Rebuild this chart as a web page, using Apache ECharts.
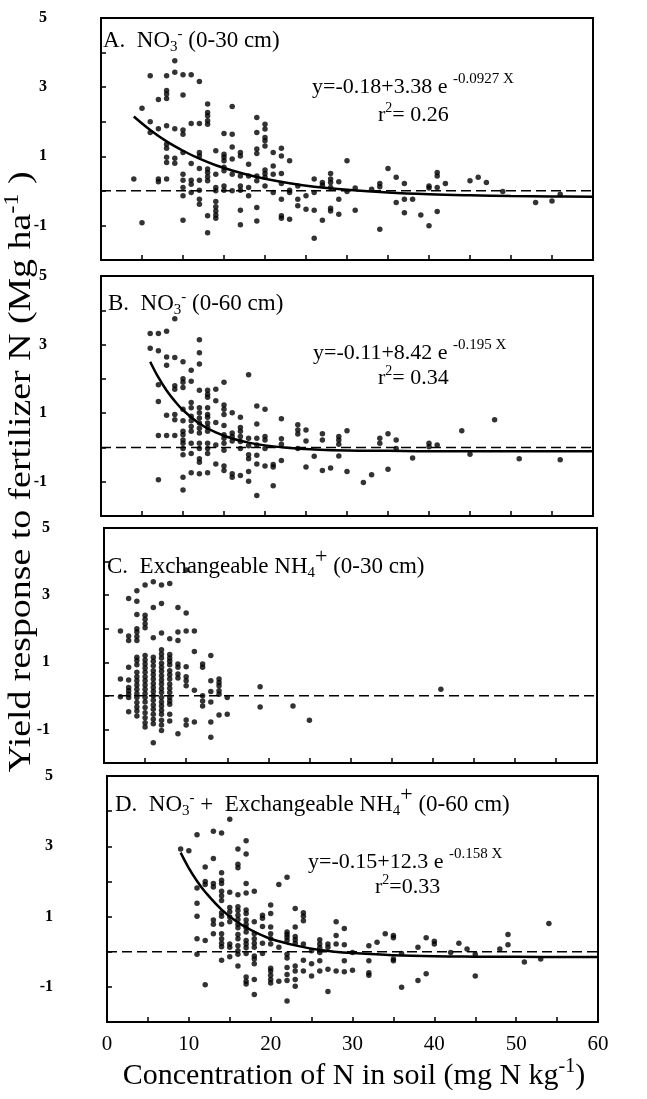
<!DOCTYPE html>
<html>
<head>
<meta charset="utf-8">
<script src="https://cdn.jsdelivr.net/npm/echarts@6/dist/echarts.min.js"></script>
<style>html,body{margin:0;padding:0;background:#fff;}#c{width:647px;height:1099px;}</style>
</head>
<body>
<div id="c"></div>
<script>
// ---------- DATA ----------
const yTickLabels = ['-1', '1', '3', '5'];
const xTickLabels = ['0', '10', '20', '30', '40', '50', '60'];
const zeroLine = [[0, 0], [60, 0]];

const pointsA = [[4,0.34],[5,2.39],[5,-0.92],[6,3.33],[6,2.0],[6,1.69],[7,2.64],[7,1.8],[7,0.34],[7,0.26],[8,3.33],[8,2.9],[8,2.8],[8,2.67],[8,1.88],[8,1.35],[8,1.23],[8,0.97],[8,0.82],[8,0.34],[9,3.76],[9,3.43],[9,1.8],[9,0.94],[9,0.8],[10,3.36],[10,2.77],[10,1.76],[10,1.64],[10,1.11],[10,0.48],[10,0.31],[10,0.1],[10,-0.14],[10,-0.85],[11,3.36],[11,1.95],[11,0.79],[11,0.31],[11,0.19],[11,-0.05],[12,3.16],[12,1.95],[12,1.11],[12,1.01],[12,0.65],[12,0.31],[12,0.02],[12,-0.24],[12,-0.39],[13,2.51],[13,2.27],[13,2.17],[13,2.03],[13,1.93],[13,0.63],[13,0.53],[13,0.41],[13,0.29],[13,-0.72],[13,-1.21],[14,1.16],[14,0.48],[14,0.1],[14,0.0],[14,-0.31],[14,-0.46],[14,-0.58],[14,-0.7],[14,-0.79],[15,1.66],[15,1.06],[15,0.97],[15,0.87],[15,0.68],[15,0.58],[15,0.14],[15,0.02],[16,2.44],[16,1.64],[16,1.27],[16,0.92],[16,0.48],[16,0.0],[17,1.11],[17,1.01],[17,0.43],[17,0.14],[17,0.02],[17,-0.56],[17,-0.98],[18,0.77],[18,0.43],[18,0.1],[18,-0.14],[19,2.12],[19,1.69],[19,1.21],[19,1.08],[19,0.43],[19,0.29],[19,-0.48],[19,-0.87],[20,1.93],[20,1.79],[20,1.54],[20,1.45],[20,1.3],[20,0.6],[20,0.5],[20,0.39],[20,0.14],[21,1.11],[21,0.72],[21,0.48],[21,-0.05],[22,1.23],[22,1.01],[22,0.5],[22,0.21],[22,-0.24],[22,-0.72],[22,-0.79],[23,0.87],[23,0.02],[23,-0.05],[23,-0.82],[24,0.14],[24,-0.24],[24,-0.43],[25,-0.14],[25,-0.53],[26,0.34],[26,-0.05],[26,-0.56],[26,-1.37],[27,0.24],[27,0.16],[27,-0.85],[28,0.5],[28,0.34],[28,0.24],[28,0.1],[28,-0.5],[28,-0.58],[29,0.26],[29,-0.24],[29,-0.68],[30,0.87],[30,-0.02],[31,0.08],[31,-0.56],[33,0.05],[34,0.21],[34,0.12],[34,-1.11],[35,0.65],[36,0.39],[36,-0.34],[37,0.21],[37,-0.24],[37,-0.63],[38,-0.24],[39,-0.7],[40,0.14],[40,0.08],[40,-1.01],[41,0.53],[41,0.43],[41,0.1],[41,-0.6],[42,0.21],[45,0.29],[46,0.39],[47,0.24],[49,-0.02],[53,-0.34],[55,-0.29],[56,-0.1]];

const pointsB = [[6,3.32],[6,2.89],[7,3.32],[7,2.82],[7,1.83],[7,1.34],[7,0.35],[7,-0.94],[8,3.39],[8,2.64],[8,2.4],[8,0.94],[8,0.35],[9,3.75],[9,2.62],[9,1.8],[9,1.7],[9,0.96],[9,0.81],[9,0.35],[10,2.5],[10,2.0],[10,1.9],[10,1.75],[10,1.11],[10,0.78],[10,0.47],[10,0.37],[10,0.22],[10,0.12],[10,-0.03],[10,-0.21],[10,-0.87],[10,-1.24],[11,2.25],[11,1.93],[11,1.31],[11,1.16],[11,0.91],[11,0.78],[11,0.61],[11,0.47],[11,0.12],[11,-0.18],[11,-0.74],[12,3.14],[12,2.76],[12,2.43],[12,1.67],[12,1.16],[12,1.01],[12,0.86],[12,0.71],[12,0.56],[12,0.42],[12,0.12],[12,-0.03],[12,-0.33],[12,-0.43],[12,-0.77],[13,1.67],[13,1.55],[13,1.46],[13,1.16],[13,0.96],[13,0.88],[13,0.71],[13,0.59],[13,0.47],[13,0.12],[13,-0.03],[13,-0.18],[13,-0.74],[14,1.7],[14,1.36],[14,0.73],[14,0.07],[14,-0.48],[15,1.9],[15,1.24],[15,1.11],[15,0.96],[15,0.64],[15,0.37],[15,0.27],[15,0.12],[15,-0.08],[15,-0.54],[15,-0.67],[16,1.01],[16,0.42],[16,0.32],[16,0.19],[16,-0.77],[16,-0.87],[17,0.88],[17,0.58],[17,0.47],[17,0.32],[17,0.17],[17,-0.03],[17,-0.82],[18,2.12],[18,0.27],[18,0.05],[18,-0.21],[18,-0.33],[18,-0.7],[18,-0.99],[19,1.21],[19,0.68],[19,0.27],[19,0.07],[19,-0.23],[19,-0.48],[19,-1.4],[20,1.11],[20,0.32],[20,0.22],[20,-0.03],[20,-0.54],[21,-0.5],[21,-0.57],[21,-1.12],[22,0.84],[22,0.25],[22,0.09],[22,-0.38],[24,0.66],[24,0.51],[24,0.39],[24,-0.03],[25,0.51],[25,0.19],[25,-0.57],[26,-0.26],[27,0.4],[27,0.22],[27,-0.67],[28,-0.6],[29,0.32],[29,0.22],[29,0.09],[29,-0.25],[30,0.49],[30,-0.7],[32,-1.02],[33,-0.8],[34,0.27],[34,0.12],[35,0.4],[35,-0.64],[36,0.22],[36,-0.03],[38,-0.31],[40,0.12],[40,0.02],[41,0.07],[44,0.49],[45,-0.2],[48,0.81],[51,-0.33],[56,-0.36]];

const pointsC = [[2,1.93],[2,0.5],[2,-0.03],[3,2.9],[3,1.78],[3,1.65],[3,0.85],[3,0.47],[3,0.25],[3,0.15],[3,0.05],[3,-0.05],[3,-0.47],[4,3.13],[4,2.82],[4,2.42],[4,2.0],[4,1.9],[4,1.77],[4,1.65],[4,1.15],[4,1.05],[4,0.93],[4,0.7],[4,0.57],[4,0.45],[4,0.32],[4,0.2],[4,0.07],[4,-0.05],[4,-0.2],[4,-0.33],[4,-0.45],[4,-0.6],[5,3.3],[5,2.4],[5,2.28],[5,2.15],[5,2.03],[5,1.2],[5,1.07],[5,0.95],[5,0.83],[5,0.7],[5,0.57],[5,0.45],[5,0.32],[5,0.2],[5,0.07],[5,-0.05],[5,-0.18],[5,-0.35],[5,-0.5],[5,-0.65],[5,-0.8],[5,-0.93],[6,3.4],[6,2.63],[6,1.73],[6,1.15],[6,1.03],[6,0.9],[6,0.75],[6,0.63],[6,0.5],[6,0.37],[6,0.25],[6,0.13],[6,0],[6,-0.13],[6,-0.27],[6,-0.4],[6,-0.55],[6,-0.7],[6,-0.83],[6,-1.4],[7,3.3],[7,2.75],[7,1.87],[7,1.37],[7,1.25],[7,1.13],[7,0.97],[7,0.85],[7,0.73],[7,0.6],[7,0.47],[7,0.35],[7,0.22],[7,0.1],[7,-0.05],[7,-0.18],[7,-0.3],[7,-0.43],[7,-0.55],[7,-0.73],[7,-0.87],[7,-1.03],[8,3.35],[8,1.7],[8,1.23],[8,1.13],[8,1.03],[8,0.93],[8,0.75],[8,0.63],[8,0.5],[8,0.35],[8,0.23],[8,0.1],[8,-0.05],[8,-0.15],[8,-0.25],[8,-0.55],[8,-0.75],[9,2.63],[9,1.9],[9,1.65],[9,0.95],[9,0.85],[9,0.65],[9,0.53],[9,-1.13],[10,3.75],[10,2.47],[10,1.93],[10,0.87],[10,0.57],[10,0.45],[10,0.3],[10,-0.72],[10,-0.87],[11,1.93],[11,1.32],[11,0.17],[11,-0.78],[12,0.95],[12,0.85],[12,0],[12,-0.15],[12,-0.3],[13,1.2],[13,0.45],[13,0.13],[13,-0.18],[13,-0.78],[13,-1.23],[14,0.5],[14,0.4],[14,0.3],[14,0.15],[14,0.05],[14,-0.57],[15,-0.05],[15,-0.55],[19,0.27],[19,-0.33],[23,-0.3],[25,-0.73],[41,0.2]];

const pointsD = [[9,2.92],[10,2.87],[11,3.33],[11,1.81],[11,1.38],[11,1.01],[11,0.37],[11,-0.07],[12,2.41],[12,2.0],[12,1.91],[12,0.32],[12,-0.94],[13,3.43],[13,2.65],[13,1.94],[13,1.84],[13,0.9],[13,0.78],[13,0.51],[14,3.38],[14,2.25],[14,2.03],[14,1.94],[14,1.72],[14,1.59],[14,1.46],[14,1.11],[14,1.01],[14,0.78],[14,0.51],[14,0.37],[14,0.24],[14,0.14],[14,-0.24],[15,3.77],[15,1.69],[15,1.26],[15,1.14],[15,0.99],[15,0.85],[15,0.22],[15,0.13],[15,-0.14],[16,2.92],[16,2.49],[16,2.39],[16,1.62],[16,1.28],[16,1.17],[16,1.04],[16,0.92],[16,0.78],[16,0.68],[16,0.49],[16,0.37],[16,0.17],[16,0.03],[16,-0.07],[16,-0.41],[17,3.16],[17,2.78],[17,1.94],[17,1.67],[17,1.19],[17,1.09],[17,0.9],[17,0.78],[17,0.68],[17,0.56],[17,0.32],[17,0.22],[17,0.11],[17,-0.05],[17,-0.72],[17,-0.84],[17,-0.92],[18,1.72],[18,0.85],[18,0.51],[18,0.37],[18,0.24],[18,0.13],[18,-0.12],[18,-0.21],[18,-0.34],[18,-0.79],[18,-1.22],[19,1.04],[19,0.95],[19,0.72],[19,0.24],[19,-0.05],[20,1.33],[20,1.09],[20,0.7],[20,0.51],[20,0.37],[20,0.22],[20,-0.47],[20,-0.55],[20,-0.67],[20,-0.79],[20,-0.89],[21,1.91],[21,0.13],[21,-0.84],[22,2.12],[22,0.56],[22,0.49],[22,0.41],[22,0.32],[22,-0.07],[22,-0.18],[22,-0.45],[22,-0.65],[22,-0.82],[22,-1.4],[23,1.23],[23,0.7],[23,0.43],[23,0.34],[23,0.24],[23,-0.41],[23,-0.55],[23,-0.79],[23,-0.98],[24,1.11],[24,1.01],[24,0.88],[24,0.22],[24,-0.24],[24,-0.55],[25,0.03],[25,-0.34],[25,-0.69],[26,0.34],[26,0.22],[26,0.11],[26,-0.02],[26,-0.26],[26,-0.55],[27,0.22],[27,0.13],[27,-0.5],[27,-1.13],[28,0.85],[28,0.46],[28,0.22],[28,-0.55],[29,0.66],[29,0.2],[29,-0.26],[29,-0.57],[30,-0.02],[30,-0.53],[32,0.17],[32,-0.26],[32,-0.6],[32,-0.67],[33,0.27],[34,0.51],[35,0.46],[35,0.4],[35,-0.21],[35,-0.26],[36,-0.05],[36,-1.01],[38,0.13],[38,-0.82],[39,0.4],[39,-0.63],[40,0.3],[40,0.22],[42,-0.02],[43,0.24],[44,0.08],[45,-0.07],[45,-0.69],[48,0.08],[49,0.49],[49,0.2],[51,-0.29],[53,-0.21],[54,0.8]];

// fitted curves
const curveA = [[4,2.15],[6,1.76],[8,1.43],[10,1.16],[12,0.93],[14,0.74],[16,0.59],[18,0.46],[20,0.35],[23,0.22],[26,0.12],[30,0.03],[35,-0.05],[40,-0.10],[45,-0.13],[50,-0.15],[55,-0.16],[60,-0.17]];
const curveB = [[6,2.50],[7,2.04],[8,1.66],[9,1.35],[10,1.09],[12,0.70],[14,0.44],[16,0.26],[18,0.14],[20,0.06],[23,-0.02],[26,-0.06],[30,-0.09],[35,-0.10],[40,-0.11],[50,-0.11],[60,-0.11]];
const curveD = [[9,2.82],[10,2.38],[11,2.01],[12,1.70],[14,1.20],[16,0.83],[18,0.57],[20,0.37],[23,0.18],[26,0.05],[30,-0.04],[35,-0.10],[40,-0.13],[45,-0.14],[50,-0.145],[60,-0.15]];

// ---------- CHART ----------
const SERIF = '"Liberation Serif", "Times New Roman", serif';
const chart = echarts.init(document.getElementById('c'));

const grids = [
  {left: 101, top: 18, width: 492, height: 242},
  {left: 101, top: 276, width: 492, height: 240},
  {left: 104, top: 528, width: 493, height: 235},
  {left: 107, top: 776, width: 491, height: 246}
];

const xAxes = grids.map((g, i) => ({
  gridIndex: i, type: 'value', min: 0, max: 60, interval: 5,
  axisLine: {show: true, onZero: false, lineStyle: {color: '#000', width: 2}},
  axisTick: {show: true, inside: true, length: 5, lineStyle: {color: '#000', width: 1.5}},
  splitLine: {show: false},
  axisLabel: {
    show: i === 3, margin: 12, color: '#000', fontFamily: SERIF, fontSize: 21,
    formatter: v => (xTickLabels.indexOf(String(v)) >= 0 ? String(v) : '')
  }
}));

const yAxes = grids.map((g, i) => ({
  gridIndex: i, type: 'value', min: -2, max: 5, interval: 1,
  axisLine: {show: true, onZero: false, lineStyle: {color: '#000', width: 2}},
  axisTick: {show: true, inside: true, length: 5, lineStyle: {color: '#000', width: 1.5}},
  splitLine: {show: false},
  axisLabel: {
    margin: 54, color: '#000', fontFamily: SERIF, fontSize: 16, fontWeight: 'bold',
    formatter: v => (yTickLabels.indexOf(String(v)) >= 0 ? String(v) : '')
  }
}));

const pointSets = [pointsA, pointsB, pointsC, pointsD];
const curves = [curveA, curveB, null, curveD];
const series = [];
pointSets.forEach((pts, i) => {
  series.push({
    type: 'line', xAxisIndex: i, yAxisIndex: i, data: zeroLine, symbol: 'none',
    lineStyle: {color: '#000', width: 1.5, type: [10, 5]}, silent: true, z: 1
  });
  series.push({
    type: 'scatter', xAxisIndex: i, yAxisIndex: i, data: pts, symbol: 'circle',
    symbolSize: 5.5, itemStyle: {color: '#000'}, z: 3
  });
  if (curves[i]) {
    series.push({
      type: 'line', xAxisIndex: i, yAxisIndex: i, data: curves[i], symbol: 'none', smooth: 0.4,
      lineStyle: {color: '#000', width: 2.5}, z: 4
    });
  }
});

function rich(size) {
  return {
    t: {fontFamily: SERIF, fontSize: size, color: '#000'},
    sub: {fontFamily: SERIF, fontSize: Math.round(size * 0.65), color: '#000', padding: [Math.round(size * 0.55), 0, 0, 0]},
    sup: {fontFamily: SERIF, fontSize: Math.round(size * 0.65), color: '#000', padding: [0, 0, Math.round(size * 0.6), 0]},
    supb: {fontFamily: SERIF, fontSize: Math.round(size * 0.95), color: '#000', padding: [0, 0, Math.round(size * 0.85), 0]},
    ex: {fontFamily: SERIF, fontSize: Math.round(size * 0.68), color: '#000', padding: [0, 0, Math.round(size * 0.7), 0]}
  };
}
function txt(x, y, text, size, opts) {
  return Object.assign({
    type: 'text', x: x, y: y, z: 10,
    style: {text: text, rich: rich(size), fontFamily: SERIF, fontSize: size, fill: '#000', align: 'left', verticalAlign: 'middle'}
  }, opts || {});
}

const graphics = [
  txt(103, 41, '{t|A.  NO}{sub|3}{sup|-}{t| (0-30 cm)}', 23),
  txt(312, 87, '{t|y=-0.18+3.38 e }{ex|-0.0927 X}', 22),
  txt(378, 115, '{t|r}{sup|2}{t|= 0.26}', 22),
  txt(108, 304, '{t|B.  NO}{sub|3}{sup|-}{t| (0-60 cm)}', 23),
  txt(313, 353, '{t|y=-0.11+8.42 e }{ex|-0.195 X}', 22),
  txt(378, 378, '{t|r}{sup|2}{t|= 0.34}', 22),
  txt(107, 567, '{t|C.  Exchangeable NH}{sub|4}{supb|+}{t| (0-30 cm)}', 23),
  txt(115, 805, '{t|D.  NO}{sub|3}{sup|-}{t| +  Exchangeable NH}{sub|4}{supb|+}{t| (0-60 cm)}', 23),
  txt(308, 862, '{t|y=-0.15+12.3 e }{ex|-0.158 X}', 22),
  txt(375, 887, '{t|r}{sup|2}{t|=0.33}', 22),
  txt(354, 1076, '{t|Concentration of N in soil (mg N kg}{sup|-1}{t|)}', 30),
  txt(22, 472, '{t|Yield response to fertilizer N (Mg ha}{sup|-1}{t| )}', 31, {rotation: Math.PI / 2, scaleX: 1.22})
];
graphics[10].style.align = 'center';
graphics[11].style.align = 'center';

chart.setOption({
  animation: false,
  backgroundColor: '#fff',
  grid: grids.map(g => Object.assign({show: true, borderColor: '#000', borderWidth: 2, backgroundColor: 'transparent'}, g)),
  xAxis: xAxes,
  yAxis: yAxes,
  series: series,
  graphic: graphics
});
</script>
</body>
</html>
